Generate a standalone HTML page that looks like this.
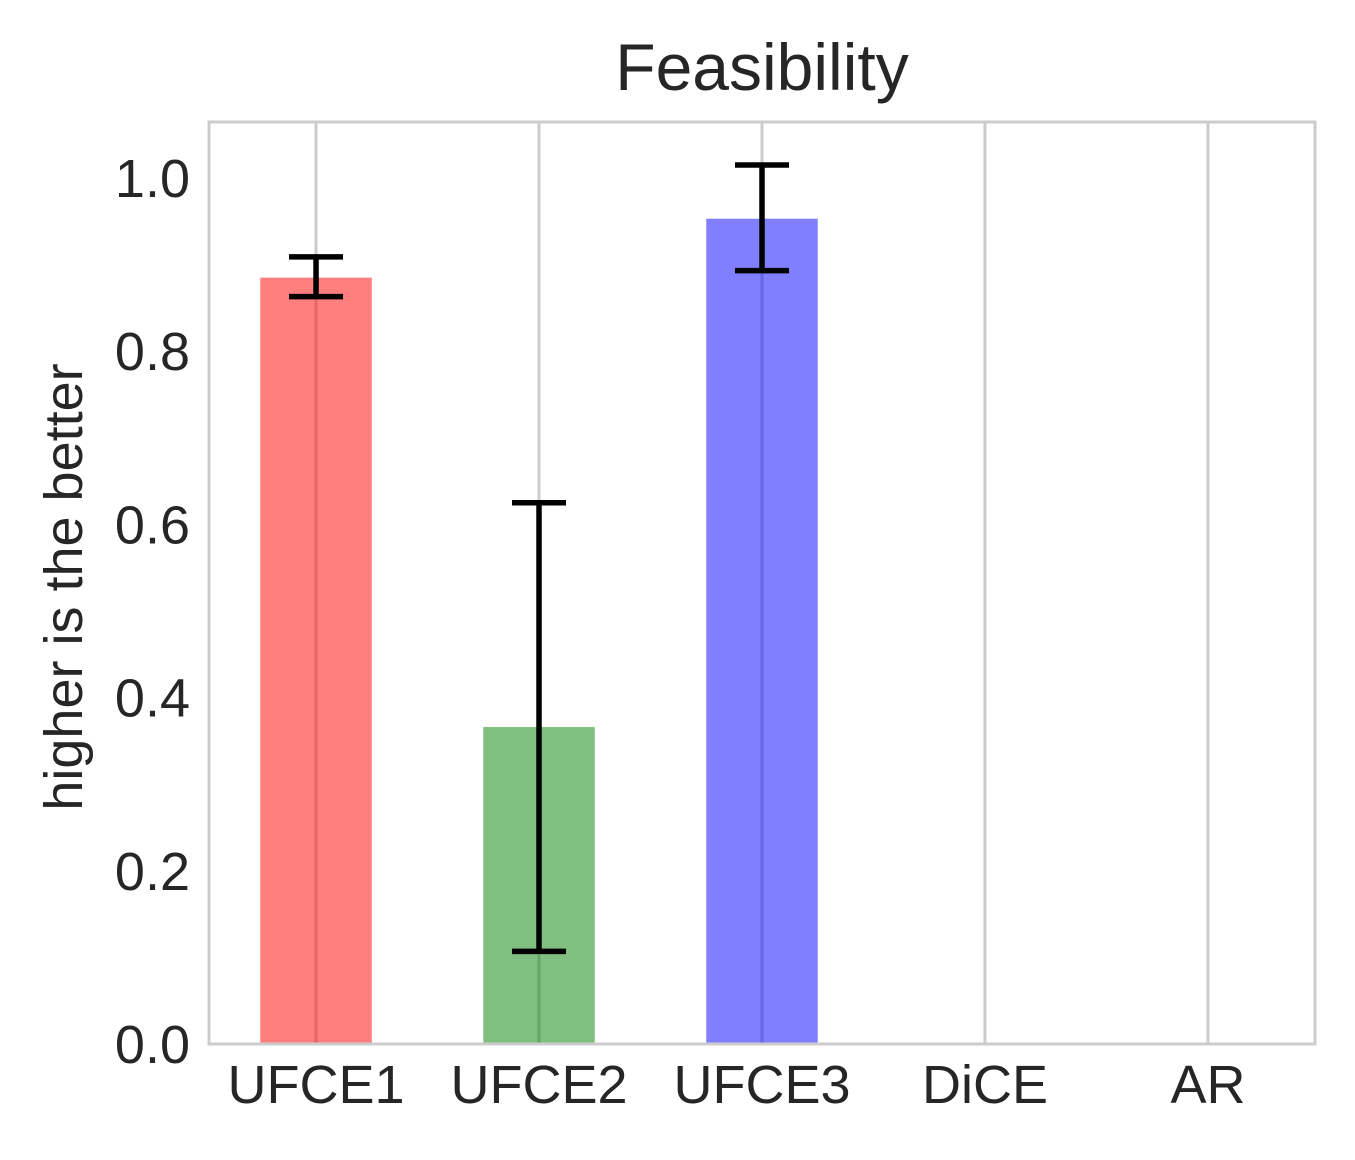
<!DOCTYPE html>
<html><head><meta charset="utf-8"><style>
html,body{margin:0;padding:0;background:#fff;}
svg text{font-family:"Liberation Sans",Arial,sans-serif;fill:#262626;}
</style></head><body>
<svg id="chart" width="1355" height="1155" xmlns="http://www.w3.org/2000/svg">
<text x="762" y="90" font-size="66" text-anchor="middle">Feasibility</text>
<text transform="translate(82,587) rotate(-90)" font-size="54" text-anchor="middle">higher is the better</text>
<g id="grid"></g><g id="bars"></g><g id="errs"></g><g id="ticks"></g>
<rect x="209" y="122" width="1106" height="922" fill="none" stroke="#cccccc" stroke-width="3"/>
</svg>
<script>
const categories=["UFCE1","UFCE2","UFCE3","DiCE","AR"];
const values=[0.885,0.366,0.953,0,0];
const errLow=[0.863,0.107,0.893,0,0];
const errHigh=[0.909,0.625,1.015,0,0];
const colors=["#ff0000","#008000","#0000ff","#ffa500","#800080"];
const yTicks=[0,0.2,0.4,0.6,0.8,1.0];
const yTickLabels=["0.0","0.2","0.4","0.6","0.8","1.0"];
const L=209,R=1315,T=122,B=1044,yMax=1.0647,xMin=-0.48,xMax=4.48;
const NS="http://www.w3.org/2000/svg";
const X=i=>L+(i-xMin)/(xMax-xMin)*(R-L);
const Y=v=>B-v/yMax*(B-T);
function mk(p,tag,a){const e=document.createElementNS(NS,tag);for(const k in a)e.setAttribute(k,a[k]);document.getElementById(p).appendChild(e);return e;}
categories.forEach((c,i)=>{
  const g=mk("grid","line",{x1:X(i),x2:X(i),y1:T,y2:B,stroke:"#cccccc","stroke-width":3});
  
  
  const bw=0.5*(X(1)-X(0));
  const b=mk("bars","rect",{x:X(i)-bw/2,y:Y(values[i]),width:bw,height:Math.max(0,B-Y(values[i])),fill:colors[i],"fill-opacity":0.5});
  
  
  if(errHigh[i]>errLow[i]){
    const e=mk("errs","path",{d:`M${X(i)},${Y(errLow[i])}V${Y(errHigh[i])}M${X(i)-27},${Y(errLow[i])}h54M${X(i)-27},${Y(errHigh[i])}h54`,stroke:"#000",fill:"none","stroke-width":5.5});
    
    
  }
  const t=mk("ticks","text",{x:X(i),y:1103,"font-size":54,"text-anchor":"middle"});t.textContent=c;
  
  
});
yTicks.forEach((v,i)=>{
  const t=mk("ticks","text",{x:190,y:Y(v)+19,"font-size":54,"text-anchor":"end"});t.textContent=yTickLabels[i];
  
  
});
</script>
</body></html>
